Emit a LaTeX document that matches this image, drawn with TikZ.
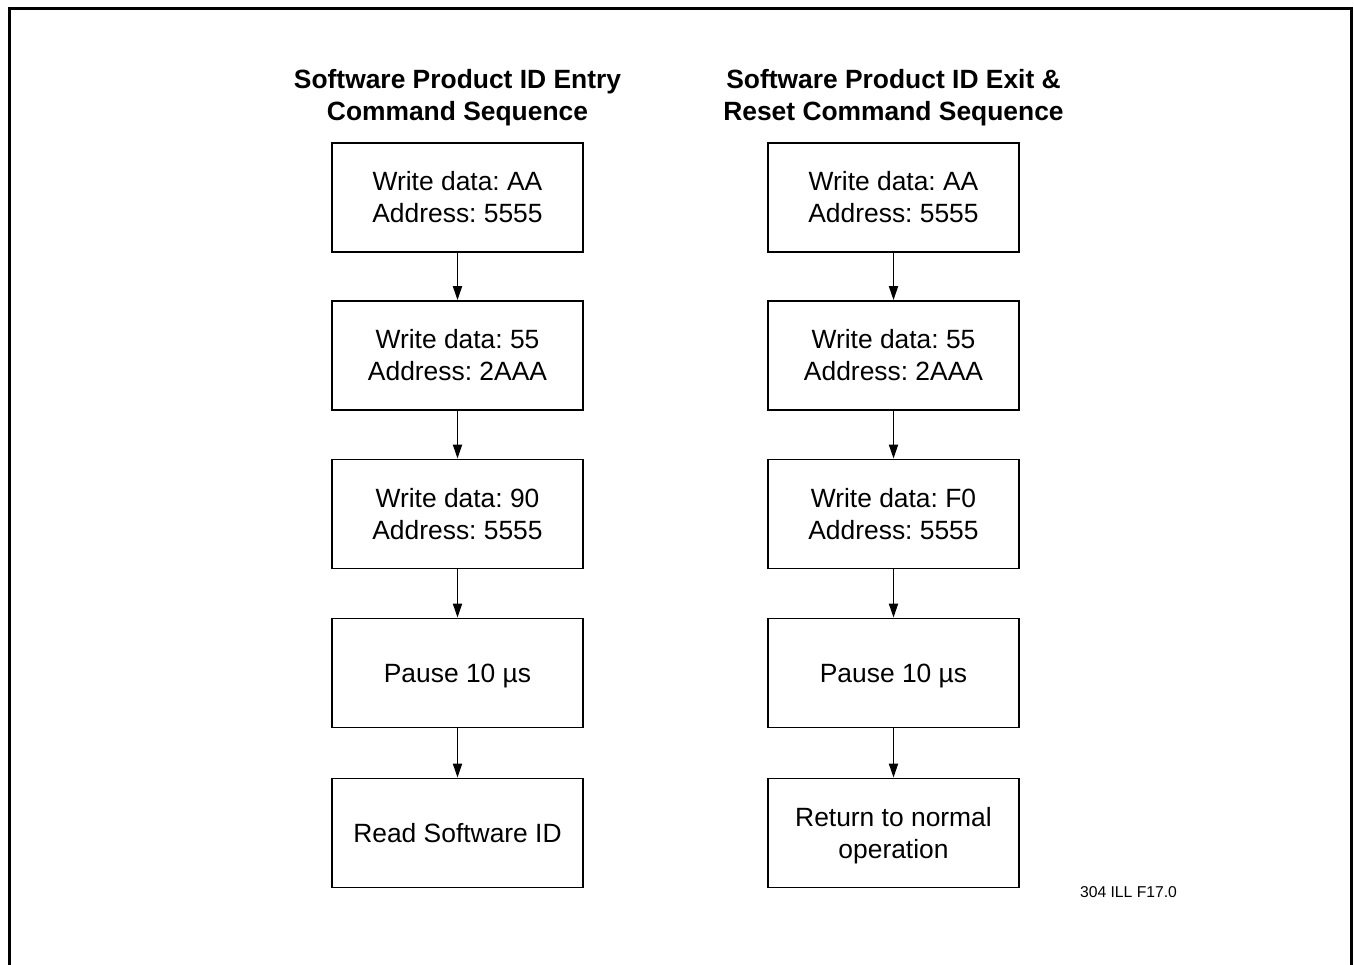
\documentclass[tikz,border=0pt]{standalone}
\usepackage{fontspec}
\setmainfont{Liberation Sans}
\usetikzlibrary{arrows.meta}
\frenchspacing
\tikzset{
  stepbox/.style={draw, line width=1.8pt, minimum width=251pt, minimum height=109pt, inner sep=0pt, align=center, font=\fontsize{26.4}{32}\selectfont},
  nodepth/.style={text depth=0pt},
  titletext/.style={align=center, font=\fontsize{26.4}{32}\selectfont\bfseries},
  flow/.style={line width=1.8pt, -{Triangle[length=14pt,width=9pt]}}
}
\begin{document}
\begin{tikzpicture}[x=1pt,y=-1pt]
\useasboundingbox (0,0) rectangle (1354,964);
\draw[line width=3pt] (9.5,966) -- (9.5,8.5) -- (1351.5,8.5) -- (1351.5,966);
% left column
\node[titletext] (tl) at (457.5,98) {Software Product ID Entry\\Command Sequence};
\node[stepbox] (l1) at (457.5,197.5) {Write data: AA\\Address: 5555};
\node[stepbox] (l2) at (457.5,355.5) {Write data: 55\\Address: 2AAA};
\node[stepbox] (l3) at (457.5,514) {Write data: 90\\Address: 5555};
\node[stepbox,nodepth] (l4) at (457.5,673) {Pause 10 µs};
\node[stepbox] (l5) at (457.5,833) {Read Software ID};
% right column
\node[titletext] (tr) at (893.5,98) {Software Product ID Exit \&\\Reset Command Sequence};
\node[stepbox] (r1) at (893.5,197.5) {Write data: AA\\Address: 5555};
\node[stepbox] (r2) at (893.5,355.5) {Write data: 55\\Address: 2AAA};
\node[stepbox] (r3) at (893.5,514) {Write data: F0\\Address: 5555};
\node[stepbox,nodepth] (r4) at (893.5,673) {Pause 10 µs};
\node[stepbox,nodepth] (r5) at (893.5,833) {Return to normal\\operation};
\foreach \a/\b in {l1/l2,l2/l3,l3/l4,l4/l5,r1/r2,r2/r3,r3/r4,r4/r5}
  \draw[flow] (\a.south) -- (\b.north);
\node[font=\fontsize{15.7}{18}\selectfont] (lab) at (1128.5,892) {304 ILL F17.0};
\end{tikzpicture}
\end{document}
